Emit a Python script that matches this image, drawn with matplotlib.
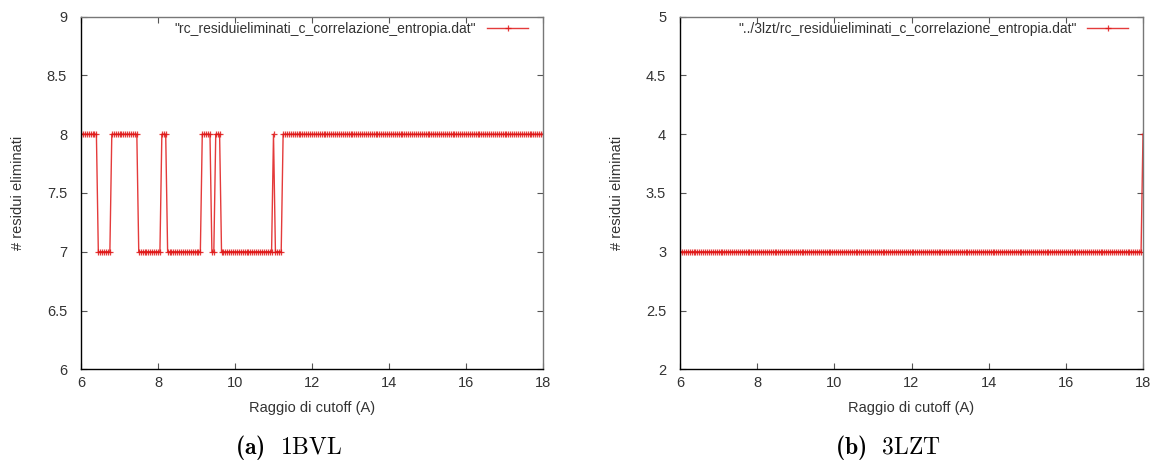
import numpy as np
from matplotlib import pyplot as plt
from matplotlib.ticker import FuncFormatter

plt.rcParams['font.family'] = ['Liberation Sans', 'DejaVu Sans']
plt.rcParams['mathtext.fontset'] = 'custom'
plt.rcParams['mathtext.rm'] = 'cmr10'
plt.rcParams['mathtext.bf'] = 'cmb10'

# x grid of the cutoff radius (A), sampled every 0.05
x_start = 6.0
x_stop = 18.0
x_step = 0.05

# 1BVL: runs of constant value (first x, last x, value)
bvl_from = [6.00, 6.45, 6.80, 7.50, 8.10, 8.25, 9.15, 9.40, 9.50, 9.65, 11.00, 11.05, 11.25]
bvl_to = [6.40, 6.75, 7.45, 8.05, 8.20, 9.10, 9.35, 9.45, 9.60, 10.95, 11.00, 11.20, 18.00]
bvl_val = [8, 7, 8, 7, 8, 7, 8, 7, 8, 7, 8, 7, 8]

# 3LZT
lzt_from = [6.00, 18.00]
lzt_to = [17.95, 18.00]
lzt_val = [3, 4]

legend_a = '"rc_residuieliminati_c_correlazione_entropia.dat"'
legend_b = '"../3lzt/rc_residuieliminati_c_correlazione_entropia.dat"'

x = np.round(np.arange(x_start, x_stop + x_step / 2, x_step), 2)


def expand(starts, ends, vals):
    y = np.zeros_like(x)
    for a, b, v in zip(starts, ends, vals):
        y[(x >= a - 1e-6) & (x <= b + 1e-6)] = v
    return y


y_a = expand(bvl_from, bvl_to, bvl_val)
y_b = expand(lzt_from, lzt_to, lzt_val)

txt = '#333333'
fig = plt.figure(figsize=(11.52, 4.67), dpi=100)
ax1 = fig.add_axes([81 / 1152, 97.7 / 467, 462 / 1152, 352.6 / 467])
ax2 = fig.add_axes([680 / 1152, 97.7 / 467, 463 / 1152, 352.6 / 467])


def style(ax, ylim, label, y):
    ax.plot(x, y, color='#e01818', lw=1.0, alpha=0.85, marker='+',
            markersize=4.5, markeredgewidth=0.9, label=label)
    ax.set_xlim(6, 18)
    ax.set_ylim(*ylim)
    ax.set_xticks(np.arange(6, 19, 2))
    ax.set_yticks(np.arange(ylim[0], ylim[1] + 0.01, 0.5))
    ax.yaxis.set_major_formatter(FuncFormatter(lambda v, p: '%g' % v))
    ax.tick_params(direction='in', length=4, width=0.8, color='#555555',
                   top=True, right=True, labelsize=10.5, labelcolor=txt)
    ax.tick_params(axis='y', pad=10)
    ax.tick_params(axis='x', pad=5)
    for s in ['left', 'bottom']:
        ax.spines[s].set_color('black')
        ax.spines[s].set_linewidth(1.0)
    for s in ['top', 'right']:
        ax.spines[s].set_color('#777777')
        ax.spines[s].set_linewidth(1.0)
    leg = ax.legend(loc='upper right', bbox_to_anchor=(0.985, 1.008),
                    frameon=False, markerfirst=False, handlelength=2.9,
                    fontsize=10, borderaxespad=0.2, handletextpad=0.8)
    for t in leg.get_texts():
        t.set_color(txt)


style(ax1, (6, 9), legend_a, y_a)
style(ax2, (2, 5), legend_b, y_b)

for cx, capx, ylx, cap in [(312, 289, 18, r'$\mathbf{(a)}\ \ \mathrm{1BVL}$'),
                           (911, 888, 617, r'$\mathbf{(b)}\ \ \mathrm{3LZT}$')]:
    fig.text(cx / 1152, 1 - 408 / 467, 'Raggio di cutoff (A)', ha='center',
             va='center', fontsize=10.5, color=txt)
    fig.text(ylx / 1152, 1 - 193 / 467, '# residui eliminati', ha='center',
             va='center', rotation=90, fontsize=10.5, color=txt)
    fig.text(capx / 1152, 1 - 447 / 467, cap, ha='center', va='center',
             fontsize=17, color='black')

fig.savefig('out.png', dpi=100)
